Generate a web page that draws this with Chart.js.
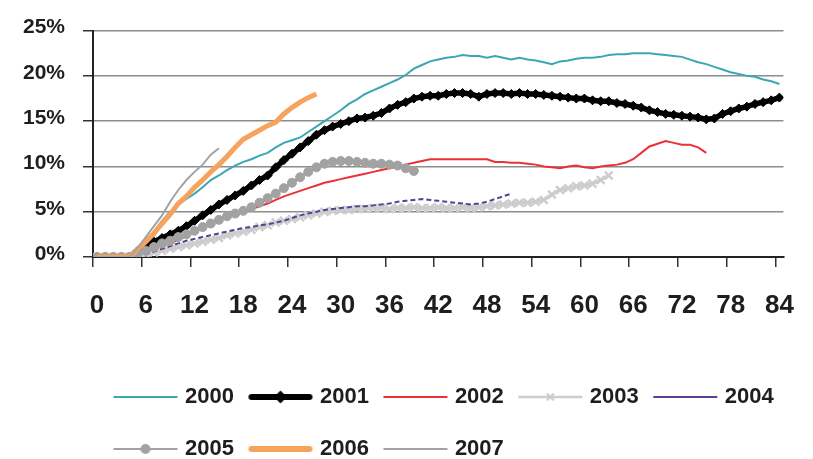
<!DOCTYPE html>
<html>
<head>
<meta charset="utf-8">
<script src="https://cdn.jsdelivr.net/npm/chart.js@4/dist/chart.umd.min.js"></script>
<style>
  html, body { margin: 0; padding: 0; background: #ffffff; }
  canvas { display: block; }
</style>
</head>
<body>
<canvas id="chart" width="813" height="459"></canvas>
<script>
// Months since start (category axis)
const months = [0,1,2,3,4,5,6,7,8,9,10,11,12,13,14,15,16,17,18,19,20,21,22,23,24,25,26,27,28,29,
  30,31,32,33,34,35,36,37,38,39,40,41,42,43,44,45,46,47,48,49,50,51,52,53,54,55,56,57,58,59,
  60,61,62,63,64,65,66,67,68,69,70,71,72,73,74,75,76,77,78,79,80,81,82,83,84];
const xTickLabels = [0,6,12,18,24,30,36,42,48,54,60,66,72,78,84];
const yTicks = [0,5,10,15,20,25];

// Cumulative rate (%) by vintage year
const s2000 = [0,0,0,0,0,
  0.7,1.5,2.8,4.0,5.0,5.8,6.4,7.0,7.7,8.5,
  9.0,9.6,10.1,10.5,10.8,11.2,11.5,12.1,12.6,12.9,
  13.2,13.8,14.4,15.0,15.6,16.2,16.9,17.4,18.0,18.4,
  18.8,19.2,19.6,20.1,20.8,21.2,21.6,21.8,22.0,22.1,
  22.3,22.2,22.2,22.0,22.2,22.0,21.8,22.0,21.8,21.7,
  21.5,21.3,21.6,21.7,21.9,22.0,22.0,22.1,22.3,22.4,
  22.4,22.5,22.5,22.5,22.4,22.3,22.2,22.1,21.8,21.5,
  21.3,21.0,20.7,20.4,20.2,20.0,19.9,19.6,19.4,19.1];
const s2001 = [0,0,0,0,0,
  0.7,1.2,1.7,2.1,2.5,2.9,3.4,4.0,4.6,5.2,
  5.8,6.3,6.8,7.3,7.9,8.5,9.0,9.9,10.7,11.4,
  12.1,12.8,13.5,14.0,14.4,14.7,15.0,15.3,15.4,15.6,
  15.9,16.4,16.8,17.1,17.5,17.7,17.8,17.8,18.0,18.1,
  18.1,18.0,17.7,18.0,18.1,18.1,18.0,18.1,18.0,18.0,
  17.9,17.8,17.7,17.6,17.5,17.5,17.3,17.2,17.2,17.0,
  16.9,16.7,16.5,16.2,16.0,15.8,15.7,15.6,15.5,15.4,
  15.2,15.3,15.8,16.1,16.4,16.6,16.9,17.1,17.3,17.6];
const s2002 = [0,0,0,0,0,
  0.2,0.5,0.8,1.1,1.5,1.9,2.3,2.8,3.3,3.8,
  4.2,4.6,4.9,5.1,5.3,5.6,5.9,6.3,6.7,7.0,
  7.3,7.6,7.9,8.2,8.4,8.6,8.8,9.0,9.2,9.4,
  9.6,9.8,10.0,10.2,10.4,10.6,10.8,10.8,10.8,10.8,
  10.8,10.8,10.8,10.8,10.5,10.5,10.4,10.4,10.3,10.2,
  10.0,9.9,9.8,10.0,10.1,9.9,9.8,10.0,10.1,10.2,
  10.4,10.8,11.5,12.2,12.5,12.8,12.6,12.4,12.4,12.1,
  11.5];
const s2003 = [0,0,0,0,0,
  0.1,0.3,0.5,0.7,0.9,1.1,1.3,1.5,1.7,1.9,
  2.1,2.4,2.6,2.8,3.0,3.3,3.5,3.8,4.0,4.2,
  4.4,4.6,4.8,5.0,5.1,5.2,5.2,5.3,5.3,5.4,
  5.4,5.3,5.4,5.4,5.5,5.4,5.4,5.5,5.4,5.4,
  5.5,5.4,5.5,5.6,5.7,5.8,5.9,6.0,6.0,6.1,
  6.3,6.9,7.4,7.6,7.8,7.9,8.1,8.5,9.0];
const s2004 = [0,0,0,0,0,
  0.1,0.3,0.6,0.9,1.2,1.5,1.8,2.0,2.2,2.4,
  2.6,2.8,3.0,3.2,3.3,3.5,3.6,3.8,4.0,4.3,
  4.6,4.8,5.0,5.2,5.3,5.4,5.5,5.6,5.6,5.7,
  5.8,5.9,6.1,6.2,6.3,6.4,6.3,6.2,6.1,6.0,
  5.9,5.8,5.9,6.1,6.4,6.7,7.0];
const s2005 = [0,0,0,0,0,
  0.4,0.7,1.1,1.5,1.8,2.2,2.5,2.9,3.3,3.7,
  4.1,4.5,4.8,5.1,5.5,6.0,6.5,7.0,7.6,8.2,
  8.8,9.4,9.9,10.3,10.5,10.6,10.6,10.5,10.4,10.3,
  10.3,10.2,10.1,9.8,9.5];
const s2006 = [0,0,0,0,0,
  0.9,1.7,2.6,3.7,4.7,5.9,6.7,7.7,8.5,9.4,
  10.2,11.1,12.1,13.0,13.5,14.0,14.5,14.9,15.8,16.5,
  17.1,17.6,18.0];
const s2007 = [0,0,0,0,0,
  1.0,2.2,3.4,4.6,6.1,7.4,8.5,9.4,10.2,11.3,
  12.0];

const FONT = "'Liberation Sans', Arial, Helvetica, sans-serif";
const TEXT = '#1e1e1e';

const datasets = [
  { label: '2000', data: s2000, borderColor: '#3ba6b4', borderWidth: 2, pointRadius: 0 },
  { label: '2001', data: s2001, borderColor: '#000000', borderWidth: 5.5,
    pointStyle: 'rectRot', pointRadius: 4.5, pointBackgroundColor: '#000000', pointBorderColor: '#000000', pointBorderWidth: 1 },
  { label: '2002', data: s2002, borderColor: '#ec3037', borderWidth: 2, pointRadius: 0 },
  { label: '2003', data: s2003, borderColor: '#cdcdcd', borderWidth: 3.5,
    pointStyle: 'crossRot', pointRadius: 5.5, pointBorderColor: '#cdcdcd', pointBorderWidth: 2.5 },
  { label: '2004', data: s2004, borderColor: '#5b3f94', borderWidth: 2, borderDash: [5, 3], pointRadius: 0 },
  { label: '2005', data: s2005, borderColor: '#a2a2a2', borderWidth: 3,
    pointStyle: 'circle', pointRadius: 4.5, pointBackgroundColor: '#a2a2a2', pointBorderColor: '#a2a2a2', pointBorderWidth: 1 },
  { label: '2006', data: s2006, borderColor: '#f5a35d', borderWidth: 5, pointRadius: 0 },
  { label: '2007', data: s2007, borderColor: '#a3a3a3', borderWidth: 2, pointRadius: 0 }
];
// later vintages sit on top
datasets.forEach((d, i) => { d.order = datasets.length - i; d.tension = 0; d.fill = false; });

// Legend swatch: a line segment, with the series marker in the middle where it has one
const swatchStyle = {
  '2000': { w: 2 },
  '2001': { w: 6, marker: 'rectRot', r: 5 },
  '2002': { w: 2 },
  '2003': { w: 2.5, marker: 'crossRot', r: 5 },
  '2004': { w: 2 },
  '2005': { w: 2, marker: 'circle', r: 4 },
  '2006': { w: 6 },
  '2007': { w: 2 }
};
function legendSwatch(ds) {
  const st = swatchStyle[ds.label];
  const c = document.createElement('canvas');
  c.width = 80; c.height = 18;
  const g = c.getContext('2d');
  const y = 9, x0 = 2, x1 = 66;
  g.strokeStyle = ds.borderColor;
  g.fillStyle = ds.borderColor;
  g.lineWidth = st.w;
  g.lineCap = st.w > 4 ? 'round' : 'butt';
  g.beginPath(); g.moveTo(x0 + (st.w > 4 ? 3 : 0), y); g.lineTo(x1 - (st.w > 4 ? 3 : 0), y); g.stroke();
  if (st.marker) {
    g.lineWidth = 2;
    Chart.helpers.drawPoint(g, { pointStyle: st.marker, radius: st.r, rotation: 0, borderWidth: 2 }, (x0 + x1) / 2, y);
  }
  return c;
}

// Legend rows start in line with the first column
const legendPlacement = {
  id: 'legendPlacement',
  afterLayout(chart) {
    const lg = chart.legend;
    if (!lg) return;
    const dx = 99 - lg.left, dy = 11;
    lg.left += dx; lg.right += dx;
    lg.top += dy; lg.bottom += dy;
  }
};

new Chart(document.getElementById('chart'), {
  type: 'line',
  data: { labels: months, datasets },
  plugins: [legendPlacement],
  options: {
    responsive: false,
    animation: false,
    events: [],
    layout: { padding: { top: 25, right: 20, bottom: 0, left: 0 } },
    scales: {
      x: {
        type: 'linear',
        min: -0.5,
        max: 84.5,
        afterBuildTicks: (scale) => { scale.ticks = xTickLabels.map(v => ({ value: v - 0.5 })); },
        afterFit: (scale) => { scale.height = 88; },
        ticks: {
          autoSkip: false,
          maxRotation: 0,
          labelOffset: 4.1,
          padding: 23,
          color: TEXT,
          font: { family: FONT, size: 26, weight: 'bold' },
          callback: (v) => String(Math.round(v + 0.5))
        },
        grid: { drawOnChartArea: false, drawTicks: true, tickLength: 10, color: '#333333', lineWidth: 1.5 },
        border: { color: '#222222', width: 2 }
      },
      y: {
        min: 0,
        max: 25,
        afterBuildTicks: (scale) => { scale.ticks = yTicks.map(v => ({ value: v })); },
        afterFit: (scale) => { scale.width = 93; },
        ticks: {
          padding: 18,
          labelOffset: -3,
          color: TEXT,
          font: { family: FONT, size: 21, weight: 'bold' },
          callback: (v) => v + '%'
        },
        grid: { color: '#8c8c8c', lineWidth: 1.5, tickLength: 10, tickColor: '#333333' },
        border: { color: '#222222', width: 2 }
      }
    },
    plugins: {
      tooltip: { enabled: false },
      legend: {
        position: 'bottom',
        align: 'start',
        labels: {
          usePointStyle: true,
          pointStyleWidth: 45,
          padding: 30,
          color: TEXT,
          font: { family: FONT, size: 22, weight: 'bold' },
          generateLabels: (chart) => chart.data.datasets.map((ds, i) => ({
            text: ds.label,
            datasetIndex: i,
            hidden: false,
            pointStyle: legendSwatch(ds),
            fillStyle: ds.borderColor,
            strokeStyle: ds.borderColor,
            lineWidth: 0,
            fontColor: TEXT
          }))
        }
      }
    }
  }
});
</script>
</body>
</html>
